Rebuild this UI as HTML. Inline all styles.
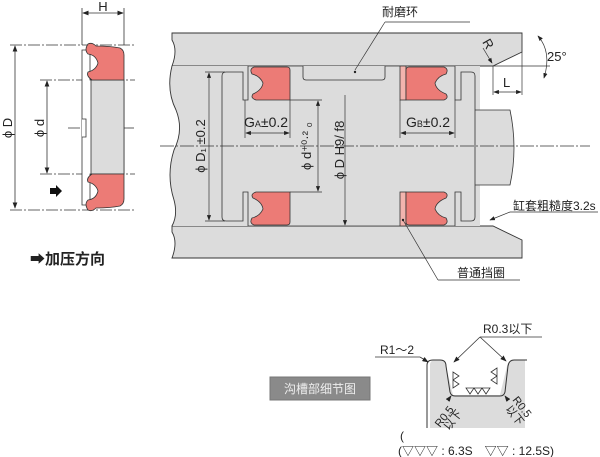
<!DOCTYPE html>
<html><head><meta charset="utf-8"><style>
html,body{margin:0;padding:0;background:#fff;}
svg{display:block;}
text{font-family:"Liberation Sans","Noto Sans CJK SC",sans-serif;fill:#222;}
</style></head><body>
<svg width="600" height="457" viewBox="0 0 600 457" xmlns="http://www.w3.org/2000/svg">
<defs>
<marker id="a" markerWidth="8" markerHeight="6" refX="7" refY="3" orient="auto-start-reverse"><path d="M0,0 L8,3 L0,6 z" fill="#222"/></marker>
</defs>
<g stroke="#333" stroke-width="0.8" fill="none">
<line x1="10" y1="45" x2="135" y2="45" stroke-dasharray="12,2,2,2"/>
<line x1="40" y1="80" x2="135" y2="80" stroke-dasharray="12,2,2,2"/>
<line x1="40" y1="174" x2="135" y2="174" stroke-dasharray="12,2,2,2"/>
<line x1="10" y1="210" x2="135" y2="210" stroke-dasharray="12,2,2,2"/>
<line x1="68" y1="128" x2="135" y2="128" stroke-dasharray="12,2,2,2"/>
<line x1="82" y1="8" x2="82" y2="45"/>
<line x1="124" y1="8" x2="124" y2="45"/>
<line x1="83" y1="13" x2="123" y2="13" marker-start="url(#a)" marker-end="url(#a)"/>
<line x1="15" y1="46" x2="15" y2="208" marker-start="url(#a)" marker-end="url(#a)"/>
<line x1="47" y1="81" x2="47" y2="173" marker-start="url(#a)" marker-end="url(#a)"/>
</g>
<path d="M82,50 L82,205 L90,205 L90,174 L124,174 L124,80 L90,80 L90,50 Z" fill="#fff" stroke="#333" stroke-width="0.8"/>
<rect x="91" y="80" width="33" height="94" fill="#dcdcdc" stroke="#333" stroke-width="0.8"/>
<path d="M82,119 L86,119 L86,137 L82,137" fill="#fff" stroke="#333" stroke-width="0.8"/>
<path d="M88,44 Q92,42 96,46 Q110,46 120,48 Q124,50 124,55 L124,80 L92,80 Q86,76 88,72 Q96,70 98,63 Q96,55 88,54 Q84,50 88,44 Z" fill="#ec7b76" stroke="#333" stroke-width="0.8"/>
<path d="M88,210 Q92,212 96,208 Q110,208 120,206 Q124,204 124,199 L124,174 L92,174 Q86,178 88,182 Q96,184 98,191 Q96,199 88,200 Q84,204 88,210 Z" fill="#ec7b76" stroke="#333" stroke-width="0.8"/>
<path d="M50,188 L56,188 L56,185 L62,191 L56,197 L56,194 L50,194 Z" fill="#111"/>
<text x="103" y="11" font-size="13" text-anchor="middle">H</text>
<text transform="translate(12,128) rotate(-90)" font-size="13" text-anchor="middle">ϕ D</text>
<text transform="translate(44,128) rotate(-90)" font-size="13" text-anchor="middle">ϕ d</text>
<text x="30" y="264" font-size="15" font-weight="bold">➡加压方向</text>

<path d="M172,33 L522,33 L522,52 L493,66 L172,66 Q178,50 172,40 Z" fill="#dcdcdc" stroke="#333" stroke-width="0.9"/>
<path d="M172,226 L493,226 L522,240 L522,258 L172,258 Q178,242 172,232 Z" fill="#dcdcdc" stroke="#333" stroke-width="0.9"/>
<path d="M172,66 Q166,90 176,110 Q184,130 174,150 Q166,175 174,200 Q178,215 172,226 L480,226 L480,66 Z" fill="#dcdcdc" stroke="none"/>
<path d="M172,66 Q166,90 176,110 Q184,130 174,150 Q166,175 174,200 Q178,215 172,226" fill="none" stroke="#333" stroke-width="0.9"/>
<path d="M475,110 L510,110 Q518,148 510,185 L475,185" fill="#dcdcdc" stroke="#333" stroke-width="0.8"/>
<path d="M226,72 L243,72 L243,100 L248,100 L248,66 L455,66 L455,100 L461,100 L461,72 L471,72 Q475,72 475,76 L475,217 Q475,221 471,221 L461,221 L461,192 L455,192 L455,226 L248,226 L248,192 L243,192 L243,221 L226,221 Q222,221 222,217 L222,76 Q222,72 226,72 Z" fill="#dcdcdc" stroke="#333" stroke-width="0.8"/>
<path d="M303,66 L303,77 Q303,80 306,80 L382,80 Q385,80 385,77 L385,66" fill="#dcdcdc" stroke="#333" stroke-width="0.8"/>
<g stroke="#333" stroke-width="0.8">
<path d="M254,67 L287,67 Q290,67 290,70 L290,100 L256,100 Q250,98 253,94 Q262,90 263,83 Q260,76 252,74 Q249,69 254,67 Z" fill="#ec7b76"/>
<path d="M254,225 L287,225 Q290,225 290,222 L290,192 L256,192 Q250,194 253,198 Q262,202 263,209 Q260,216 252,218 Q249,223 254,225 Z" fill="#ec7b76"/>
<rect x="400" y="66" width="6" height="34" fill="#f2b4ae"/>
<rect x="400" y="192" width="6" height="34" fill="#f2b4ae"/>
<path d="M409,67 L444,67 Q449,69 446,74 Q438,76 435,83 Q436,90 446,94 Q449,98 444,100 L406,100 L406,70 Q406,67 409,67 Z" fill="#ec7b76"/>
<path d="M409,225 L444,225 Q449,223 446,218 Q438,216 435,209 Q436,202 446,198 Q449,194 444,192 L406,192 L406,222 Q406,225 409,225 Z" fill="#ec7b76"/>
</g>
<g stroke="#333" stroke-width="0.7" fill="none">
<line x1="160" y1="146" x2="590" y2="146" stroke-dasharray="14,2,2,2"/>
<line x1="205" y1="72" x2="225" y2="72"/><line x1="205" y1="221" x2="225" y2="221"/>
<line x1="209" y1="73" x2="209" y2="220" marker-start="url(#a)" marker-end="url(#a)"/>
<line x1="245" y1="100" x2="245" y2="138"/><line x1="290" y1="100" x2="290" y2="138"/>
<line x1="246" y1="133" x2="289" y2="133" marker-start="url(#a)" marker-end="url(#a)"/>
<line x1="400" y1="100" x2="400" y2="138"/><line x1="455" y1="100" x2="455" y2="138"/>
<line x1="401" y1="133" x2="454" y2="133" marker-start="url(#a)" marker-end="url(#a)"/>
<line x1="290" y1="100" x2="322" y2="100"/><line x1="290" y1="192" x2="322" y2="192"/>
<line x1="318" y1="101" x2="318" y2="191" marker-start="url(#a)" marker-end="url(#a)"/>
<line x1="345" y1="95" x2="345" y2="225" marker-end="url(#a)"/>
<line x1="355" y1="70" x2="385" y2="22"/><line x1="385" y1="22" x2="470" y2="22"/>
<line x1="493" y1="66" x2="493" y2="95"/><line x1="522" y1="52" x2="522" y2="95"/>
<line x1="494" y1="92" x2="521" y2="92" marker-start="url(#a)" marker-end="url(#a)"/>
<line x1="493" y1="66" x2="550" y2="66"/>
<path d="M538,36 Q552,52 544,78" marker-start="url(#a)" marker-end="url(#a)"/>
<line x1="483" y1="48" x2="492" y2="63" marker-end="url(#a)"/>
<line x1="490" y1="220" x2="510" y2="212" marker-start="url(#a)"/><line x1="510" y1="212" x2="598" y2="212"/>
<line x1="403" y1="220" x2="438" y2="280"/><line x1="438" y1="280" x2="520" y2="280"/>
</g>
<circle cx="355" cy="72" r="1.2" fill="#222"/><circle cx="403" cy="220" r="1.2" fill="#222"/>
<text x="400" y="16" font-size="12" text-anchor="middle">耐磨环</text>
<text x="244" y="127" font-size="14">G<tspan font-size="9">A</tspan>±0.2</text>
<text x="406" y="127" font-size="14">G<tspan font-size="9">B</tspan>±0.2</text>
<text transform="translate(205,146) rotate(-90)" font-size="13" text-anchor="middle">ϕ D₁ ±0.2</text>
<text transform="translate(311,146) rotate(-90)" font-size="13" text-anchor="middle">ϕ d⁺⁰·² ₀</text>
<text transform="translate(344,150) rotate(-90)" font-size="13" text-anchor="middle">ϕ D H9/ f8</text>
<text transform="translate(482,42) rotate(60)" font-size="13">R</text>
<text x="547" y="61" font-size="13">25°</text>
<text x="503" y="87" font-size="13">L</text>
<text x="513" y="210" font-size="12">缸套粗糙度3.2s</text>
<text x="457" y="277" font-size="12">普通挡圈</text>

<rect x="270" y="377" width="100" height="23" fill="#8a8a8a" stroke="#777"/>
<text x="320" y="393" font-size="12" text-anchor="middle" style="fill:#eee">沟槽部细节图</text>
<path d="M430,428 L430,365 Q430,360 436,360 L440,360 Q446,360 446,366 L453,395 L500,395 L507,366 Q508,360 514,360 L525,360 L525,428 Z" fill="#dcdcdc" stroke="none"/>
<path d="M427,428 L427,365 Q427,360 433,360 L440,360 Q446,360 446,366 L450,392 Q451,396 455,396 L500,396 Q504,396 505,392 L508,366 Q509,360 514,360 L527,360" fill="none" stroke="#333" stroke-width="1"/>
<g fill="none" stroke="#333" stroke-width="0.8">
<path d="M453,372 l6,4 l-6,4 z M453,380 l6,4 l-6,4 z"/>
<path d="M497,368 l-6,4 l6,4 z M497,376 l-6,4 l6,4 z"/>
<path d="M466,388 l4,6 l4,-6 z M474,388 l4,6 l4,-6 z M482,388 l4,6 l4,-6 z"/>
<line x1="375" y1="357" x2="420" y2="357"/><line x1="420" y1="357" x2="428" y2="362" marker-end="url(#a)"/>
<line x1="480" y1="337" x2="542" y2="337"/>
<line x1="480" y1="337" x2="454" y2="362" marker-end="url(#a)"/>
<line x1="480" y1="337" x2="506" y2="361" marker-end="url(#a)"/>
<line x1="448" y1="400" x2="451" y2="396" marker-end="url(#a)"/>
<line x1="508" y1="400" x2="505" y2="396" marker-end="url(#a)"/>
</g>
<text x="483" y="333" font-size="12">R0.3以下</text>
<text x="380" y="354" font-size="12">R1～2</text>
<text transform="translate(440,428) rotate(-52)" font-size="11">R0.5</text>
<text transform="translate(449,431) rotate(-52)" font-size="11">以下</text>
<text transform="translate(512,400) rotate(52)" font-size="11">R0.5</text>
<text transform="translate(505,409) rotate(52)" font-size="11">以下</text>
<text x="400" y="440" font-size="12" font-family="Liberation Serif">(</text>
<text x="398" y="455" font-size="12" font-family="Liberation Serif">(▽▽▽ : 6.3S　▽▽ : 12.5S)</text>
</svg>
</body></html>
